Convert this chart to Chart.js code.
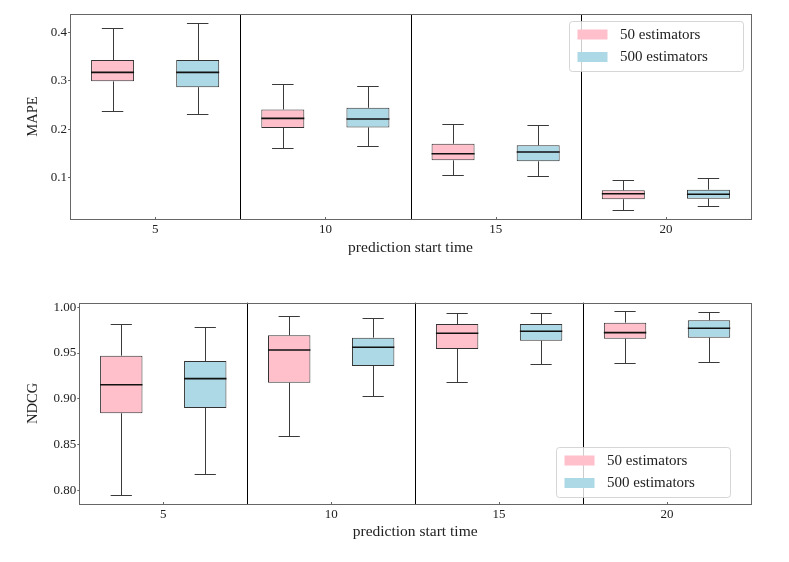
<!DOCTYPE html>
<html><head><meta charset="utf-8">
<script src="https://cdn.jsdelivr.net/npm/chart.js@4.4.0/dist/chart.umd.min.js"></script>
<style>
html,body{margin:0;padding:0;background:#fff;}
#wrap{position:relative;width:789px;height:562px;overflow:hidden;}
canvas{position:absolute;left:0;}
</style></head><body>
<div id="wrap">
<canvas id="topChart" width="789" height="281" style="top:0"></canvas>
<canvas id="botChart" width="789" height="281" style="top:281px"></canvas>
</div>
<script>
// ---------- data ----------
const categories = ['5', '10', '15', '20'];
const seriesLabels = ['50 estimators', '500 estimators'];
const seriesColors = ['#FFC0CB', '#ADD8E6'];

// five-number summaries per category: [min, q1, median, q3, max]
const mape50  = [[0.237, 0.299, 0.3175, 0.343, 0.409],
                 [0.161, 0.2027, 0.2227, 0.241, 0.294],
                 [0.1064, 0.136, 0.1497, 0.1703, 0.211],
                 [0.0342, 0.0557, 0.0672, 0.0742, 0.0961]];
const mape500 = [[0.231, 0.287, 0.3175, 0.343, 0.4185],
                 [0.165, 0.204, 0.2212, 0.2445, 0.2887],
                 [0.103, 0.134, 0.1532, 0.167, 0.2082],
                 [0.0412, 0.057, 0.066, 0.0755, 0.0996]];
const ndcg50  = [[0.7949, 0.8842, 0.9154, 0.9471, 0.9821],
                 [0.8597, 0.9176, 0.9533, 0.9694, 0.9905],
                 [0.9187, 0.9544, 0.9716, 0.9817, 0.9934],
                 [0.9395, 0.9657, 0.9723, 0.9832, 0.9956]];
const ndcg500 = [[0.8178, 0.8900, 0.9220, 0.9413, 0.9788],
                 [0.9031, 0.9358, 0.9563, 0.9668, 0.9883],
                 [0.9384, 0.9635, 0.9738, 0.9817, 0.9941],
                 [0.9399, 0.9668, 0.9770, 0.9858, 0.9945]];

const mapeTicks = [0.1, 0.2, 0.3, 0.4];
const ndcgTicks = [0.80, 0.85, 0.90, 0.95, 1.00];
const xTitle = 'prediction start time';

// ---------- styling ----------
const FONT = "'Liberation Serif', 'DejaVu Serif', serif";
Chart.defaults.font.family = FONT;
Chart.defaults.color = '#222';
const TITLE_SIZE = 15.5, YTITLE_SIZE = 14.5, TICK_SIZE = 13, LEG_SIZE = 15;

const legendCfgs = {
  topChart: {anchor: 'top', right: 8, off: 7},
  botChart: {anchor: 'bottom', right: 21, off: 7}
};

function line(ctx, x1, y1, x2, y2) {
  ctx.beginPath(); ctx.moveTo(x1, y1); ctx.lineTo(x2, y2); ctx.stroke();
}
const px = v => Math.round(v) + 0.5;

const boxPlugin = {
  id: 'boxDecor',
  beforeDatasetsDraw(chart) {
    const {ctx, scales: {y}} = chart;
    ctx.save();
    chart.data.datasets.forEach((ds, di) => {
      const meta = chart.getDatasetMeta(di);
      meta.data.forEach((bar, i) => {
        const s = ds.stats[i];
        const cx = px(bar.x), cap = bar.width * 0.5;
        const yMin = px(y.getPixelForValue(s[0])), yQ1 = y.getPixelForValue(s[1]);
        const yQ3 = y.getPixelForValue(s[3]), yMax = px(y.getPixelForValue(s[4]));
        ctx.strokeStyle = '#3a3a3a'; ctx.lineWidth = 1;
        line(ctx, cx, yQ3, cx, yMax);
        line(ctx, bar.x - cap / 2, yMax, bar.x + cap / 2, yMax);
        line(ctx, cx, yQ1, cx, yMin);
        line(ctx, bar.x - cap / 2, yMin, bar.x + cap / 2, yMin);
      });
    });
    ctx.restore();
  },
  afterDatasetsDraw(chart) {
    const {ctx, chartArea: a, scales: {x, y}} = chart;
    ctx.save();
    // medians
    chart.data.datasets.forEach((ds, di) => {
      const meta = chart.getDatasetMeta(di);
      meta.data.forEach((bar, i) => {
        const yMed = y.getPixelForValue(ds.stats[i][2]);
        ctx.strokeStyle = '#111'; ctx.lineWidth = 1.6;
        line(ctx, bar.x - bar.width / 2, yMed, bar.x + bar.width / 2, yMed);
      });
    });
    // group separators
    ctx.strokeStyle = '#000'; ctx.lineWidth = 1;
    for (let i = 0; i < categories.length - 1; i++) {
      const xs = px((x.getPixelForValue(i) + x.getPixelForValue(i + 1)) / 2);
      line(ctx, xs, a.top, xs, a.bottom);
    }
    // frame
    ctx.strokeStyle = '#666'; ctx.lineWidth = 1;
    ctx.strokeRect(px(a.left), px(a.top), Math.round(a.right - a.left), Math.round(a.bottom - a.top));
    // inward x tick marks
    for (let i = 0; i < categories.length; i++) {
      const xt = px(x.getPixelForValue(i));
      line(ctx, xt, px(a.bottom), xt, px(a.bottom) - 2.5);
    }
    // legend
    const L = legendCfgs[chart.canvas.id];
    if (!L) { ctx.restore(); return; }
    const w = 174, h = 50;
    const bx = a.right - L.right - w;
    const by = L.anchor === 'top' ? a.top + L.off : a.bottom - L.off - h;
    ctx.fillStyle = 'rgba(255,255,255,0.8)';
    ctx.strokeStyle = 'rgba(204,204,204,0.8)';
    ctx.beginPath();
    if (ctx.roundRect) ctx.roundRect(px(bx), px(by), w, h, 3); else ctx.rect(px(bx), px(by), w, h);
    ctx.fill(); ctx.stroke();
    ctx.font = LEG_SIZE + 'px ' + FONT;
    ctx.textBaseline = 'middle'; ctx.textAlign = 'left';
    chart.data.datasets.forEach((ds, di) => {
      const cy = by + 13.5 + di * 22.5;
      ctx.fillStyle = ds.backgroundColor;
      ctx.fillRect(bx + 8.5, cy - 5, 30, 10);
      ctx.fillStyle = '#222';
      ctx.fillText(ds.label, bx + 51, cy + 0.5);
    });
    ctx.restore();
  }
};

function makeChart(id, stats, yTitle, ticks, dec, yMin, yMax, geo) {
  const datasets = stats.map((st, k) => ({
    label: seriesLabels[k],
    data: st.map(s => [s[1], s[3]]),
    stats: st,
    backgroundColor: seriesColors[k],
    borderColor: '#333',
    borderWidth: 1,
    borderSkipped: false,
    barPercentage: 0.505,
    categoryPercentage: 1.0
  }));
  return new Chart(document.getElementById(id), {
    type: 'bar',
    data: {labels: categories, datasets},
    options: {
      responsive: false,
      animation: false,
      layout: {padding: geo.padding},
      plugins: {legend: {display: false}, tooltip: {enabled: false}},
      scales: {
        x: {
          grid: {display: false, drawTicks: false},
          border: {display: false},
          ticks: {font: {size: TICK_SIZE}, padding: 3, color: '#222'},
          title: {display: true, text: xTitle, font: {size: TITLE_SIZE, lineHeight: 1.2}, padding: 0, color: '#222'},
          afterFit: s => { s.height = geo.xH; }
        },
        y: {
          min: yMin, max: yMax,
          grid: {drawOnChartArea: false, drawTicks: true, tickLength: 2, color: '#666'},
          border: {display: false},
          afterBuildTicks: s => { s.ticks = ticks.map(v => ({value: v})); },
          ticks: {font: {size: TICK_SIZE}, padding: 1, color: '#222', callback: v => Number(v).toFixed(dec)},
          title: {display: true, text: yTitle, font: {size: YTITLE_SIZE, lineHeight: 1.2}, padding: 0, color: '#222'},
          afterFit: s => { s.width = geo.yW; }
        }
      }
    },
    plugins: [boxPlugin]
  });
}

const halfT = TITLE_SIZE * 1.2 / 2, halfY = YTITLE_SIZE * 1.2 / 2;
// top chart: plot area x 70..751, y 14..219
makeChart('topChart', [mape50, mape500], 'MAPE', mapeTicks, 1, 0.015, 0.438,
  {padding: {left: 33 - halfY, top: 14, right: 38, bottom: 281 - (248 + halfT)},
   yW: 70 - (33 - halfY), xH: (248 + halfT) - 219});
// bottom chart: plot area x 79..751, y 21.7..223 (canvas coords)
makeChart('botChart', [ndcg50, ndcg500], 'NDCG', ndcgTicks, 2, 0.785, 1.005,
  {padding: {left: 33.5 - halfY, top: 21.7, right: 38, bottom: 281 - (251 + halfT)},
   yW: 79.3 - (33.5 - halfY), xH: (251 + halfT) - 223});
</script>
</body></html>
